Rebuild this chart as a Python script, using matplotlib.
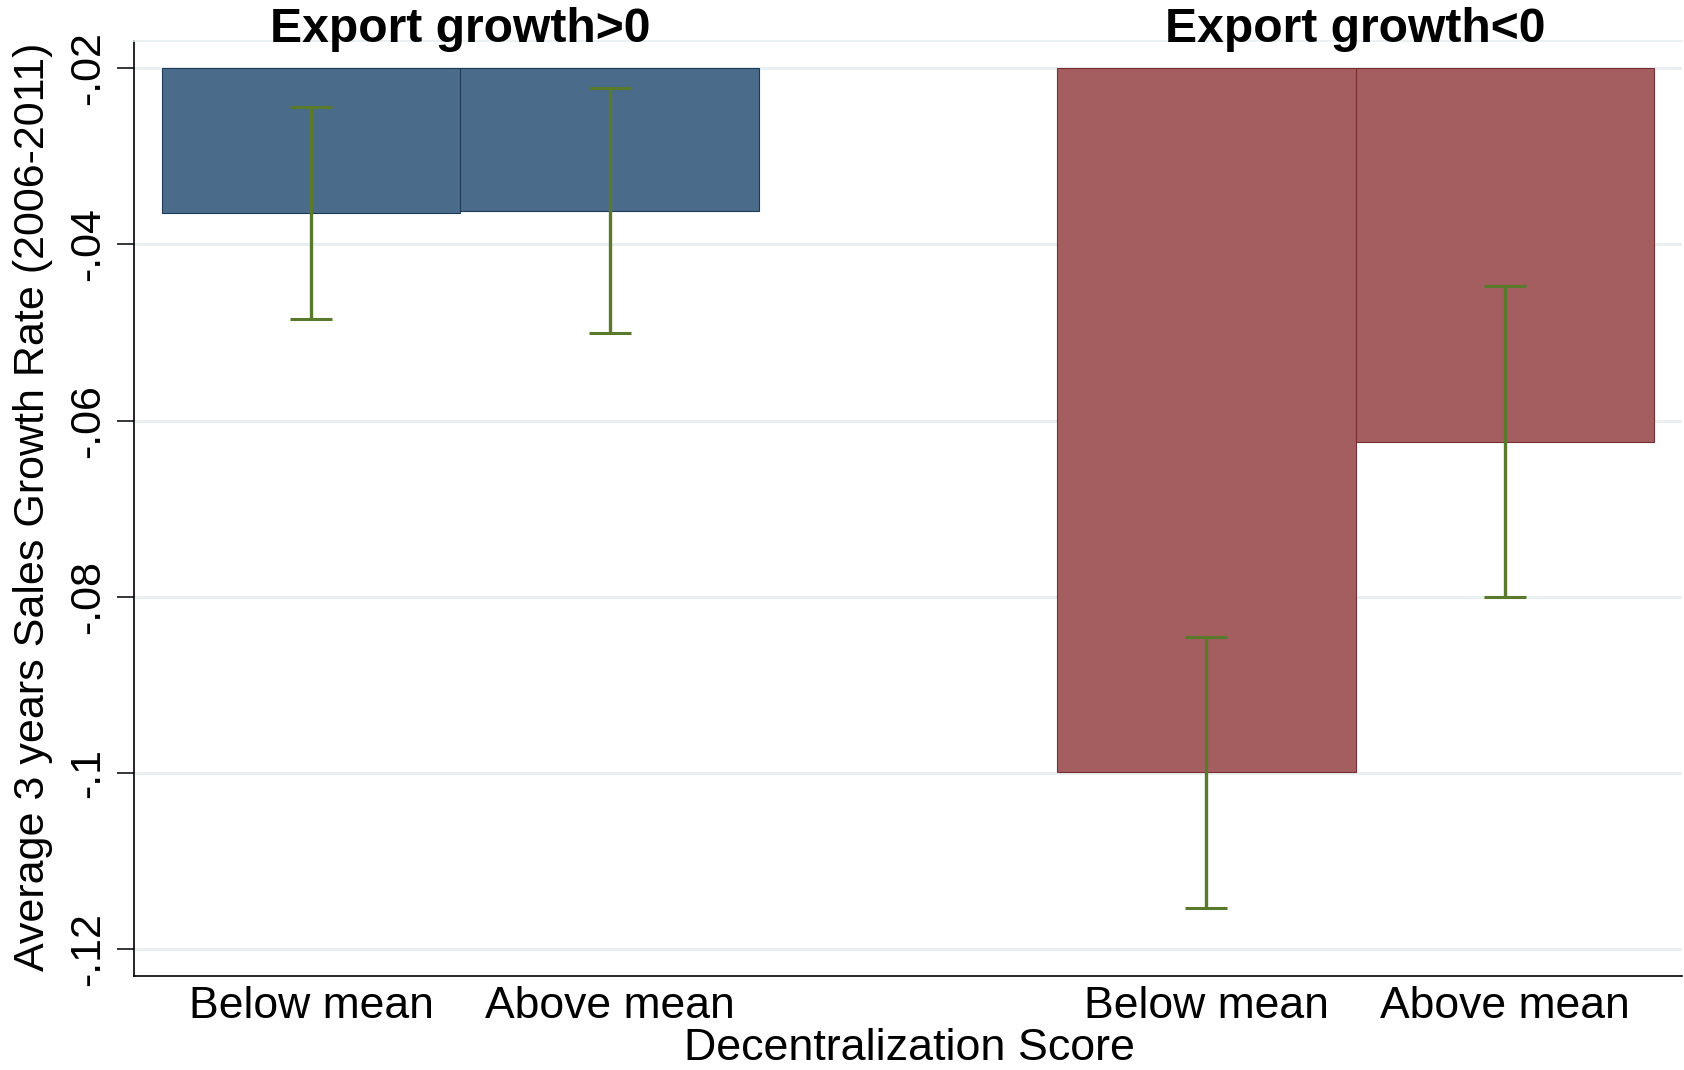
import numpy as np
import matplotlib
matplotlib.use("Agg")
import matplotlib.pyplot as plt
from matplotlib.transforms import blended_transform_factory

plt.rcParams['font.family'] = ['Liberation Sans', 'DejaVu Sans']

# Group panels and categories
groups = ["Export growth>0", "Export growth<0"]
categories = ["Below mean", "Above mean"]

# Mean growth rate and 95% confidence bounds per group / category
means_pos = [-0.0364, -0.0362]
ci_lo_pos = [-0.0485, -0.0501]
ci_hi_pos = [-0.0244, -0.0222]

means_neg = [-0.0999, -0.0624]
ci_lo_neg = [-0.1153, -0.0800]
ci_hi_neg = [-0.0846, -0.0447]

yticks = [-0.02, -0.04, -0.06, -0.08, -0.10, -0.12]
ytick_labels = ["-.02", "-.04", "-.06", "-.08", "-.1", "-.12"]
bar_base = -0.02

W, H = 1684, 1070
fig = plt.figure(figsize=(W / 100, H / 100), dpi=100)
ax = fig.add_axes([134 / W, 1 - 976 / H, (1682 - 134) / W, (976 - 41) / H])

blue, blue_edge = "#4a6b8a", "#1f3a58"
red, red_edge = "#a45e60", "#7a2e34"
green = "#5a7a2b"

positions = [[0.5, 1.5], [3.5, 4.5]]
series = [(means_pos, ci_lo_pos, ci_hi_pos, blue, blue_edge),
          (means_neg, ci_lo_neg, ci_hi_neg, red, red_edge)]

for pos, (m, lo, hi, fc, ec) in zip(positions, series):
    m = np.array(m)
    lo = np.array(lo)
    hi = np.array(hi)
    ax.bar(pos, m - bar_base, bottom=bar_base, width=1.0, color=fc,
           edgecolor=ec, linewidth=0.8, zorder=2)
    ax.errorbar(pos, m, yerr=[m - lo, hi - m], fmt='none', ecolor=green,
                elinewidth=2.4, capsize=15, capthick=2.2, zorder=3)

ax.set_xlim(-0.093, 5.093)
ax.set_ylim(-0.12307, -0.0169)

# Light horizontal grid
ax.set_yticks(yticks)
ax.set_yticklabels(ytick_labels, rotation=90, va='center', fontsize=31)
ax.yaxis.grid(True, color="#eaf0f2", linewidth=2.2, zorder=0)
ax.set_axisbelow(True)
ax.tick_params(axis='y', direction='out', length=12.2, width=1.1,
               pad=6.5, colors='black')

ax.set_xticks([p for grp in positions for p in grp])
ax.set_xticklabels(categories * 2, fontsize=32)
ax.tick_params(axis='x', length=0, pad=7)

for side in ('left', 'bottom'):
    ax.spines[side].set_color('black')
    ax.spines[side].set_linewidth(1.2)
ax.spines['top'].set_color("#e8eef0")
ax.spines['top'].set_linewidth(1.2)
ax.spines['right'].set_visible(False)

# Group headings above each panel
trans = blended_transform_factory(ax.transData, fig.transFigure)
for pos, title in zip(positions, groups):
    ax.text(np.mean(pos), 1 - 42 / H, title, transform=trans, ha='center',
            va='baseline', fontsize=34.6, fontweight='bold', clip_on=False)

fig.text(33 / W, 1 - 507 / H, "Average 3 years Sales Growth Rate (2006-2011)",
         rotation=90, ha='center', va='center', fontsize=31)
fig.text(909 / W, 1 - 1060 / H, "Decentralization Score", ha='center',
         va='baseline', fontsize=32.3)

fig.savefig("out.png", dpi=100)
